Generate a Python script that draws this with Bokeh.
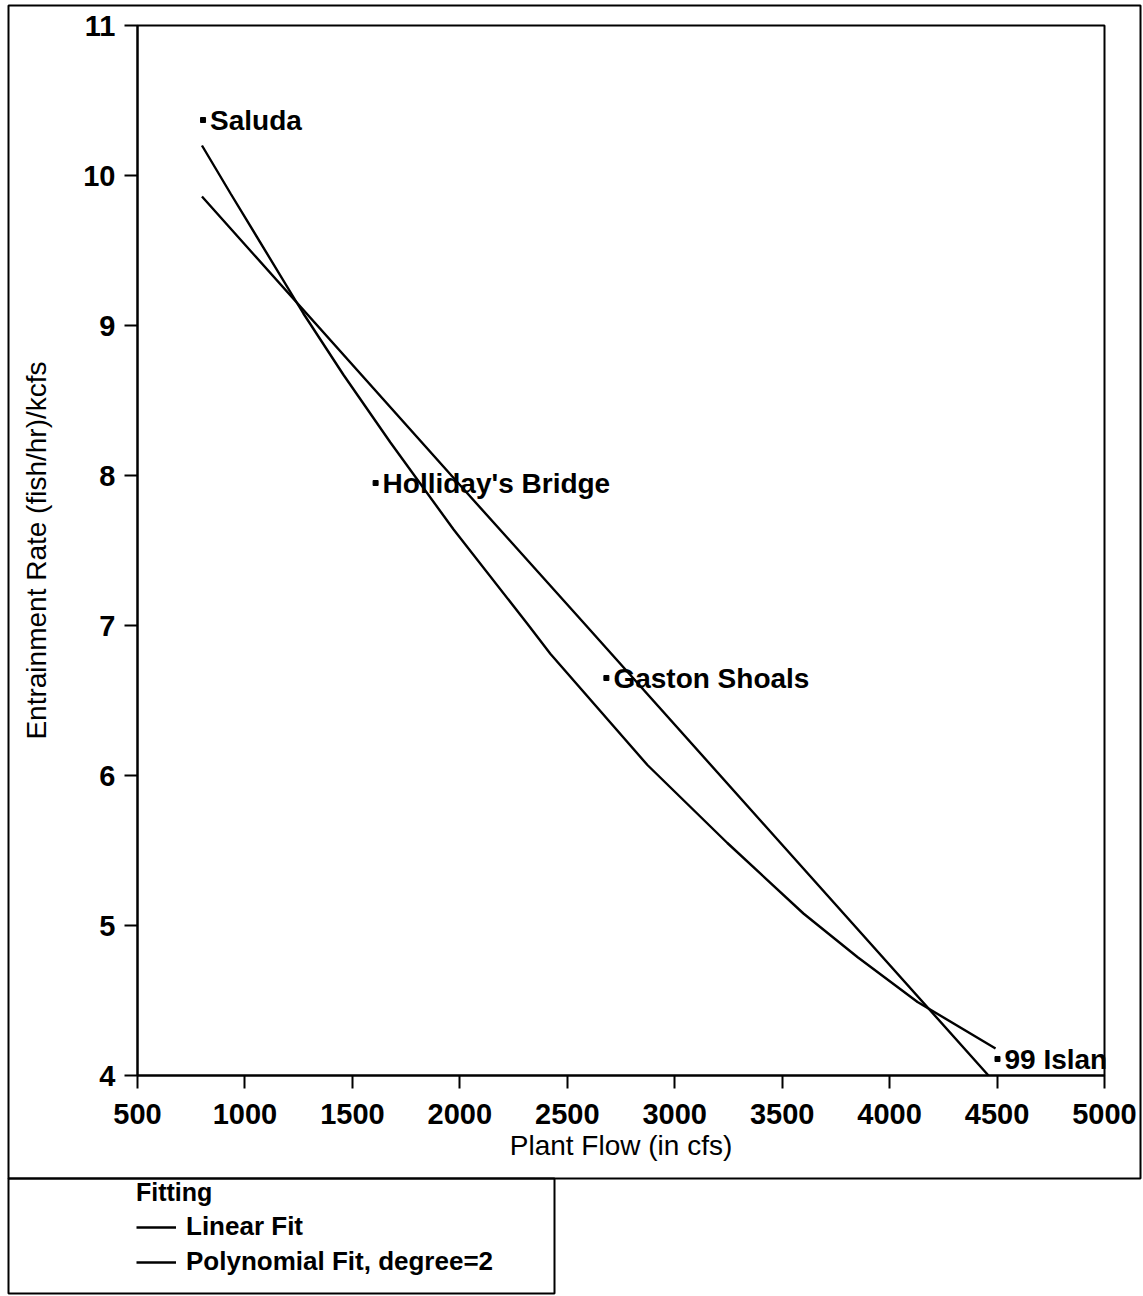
from bokeh.plotting import figure
from bokeh.models import (Range1d, Legend, LegendItem, BoxAnnotation,
                          ColumnDataSource, FixedTicker, LinearAxis)
from bokeh.core.properties import value
from bokeh.embed import file_html
from bokeh.resources import INLINE

# ---- data ----
sites = ["Saluda", "Holliday's Bridge", "Gaston Shoals", "99 Islan"]
plant_flow = [805, 1608, 2682, 4502]
entrain_rate = [10.37, 7.95, 6.65, 4.11]

linear_x = [800, 2017, 2575, 4460]
linear_y = [9.86, 7.91, 7.02, 4.00]

poly_x = [800, 933, 1272, 1459, 1677, 1971, 2315, 2422, 2873, 3245, 3599, 3850, 4130, 4493]
poly_y = [10.20, 9.88, 9.08, 8.67, 8.22, 7.64, 7.01, 6.81, 6.07, 5.55, 5.08, 4.79, 4.49, 4.18]

x_ticks = [500, 1000, 1500, 2000, 2500, 3000, 3500, 4000, 4500, 5000]
y_ticks = [4, 5, 6, 7, 8, 9, 10, 11]
x_lim = (500, 5000)
y_lim = (4, 11)

legend_title = "Fitting"
legend_labels = ["Linear Fit", "Polynomial Fit, degree=2"]

# ---- layout (pixels) ----
FONT = "Liberation Sans"
W, H = 1142, 1295
PLOT_L, PLOT_R, PLOT_T, PLOT_B = 137, 1104, 25, 1075   # plot area in canvas pixels

sx = (PLOT_R - PLOT_L) / (x_lim[1] - x_lim[0])
sy = (PLOT_B - PLOT_T) / (y_lim[1] - y_lim[0])
x_range = Range1d(x_lim[0] - PLOT_L / sx, x_lim[0] + (W - PLOT_L) / sx)
y_range = Range1d(y_lim[1] - (H - PLOT_T) / sy, y_lim[1] + PLOT_T / sy)

p = figure(width=W, height=H, output_backend="svg", toolbar_location=None,
           x_range=x_range, y_range=y_range,
           x_axis_location=None, y_axis_location=None,
           min_border=0, min_border_left=0, min_border_right=0,
           min_border_top=0, min_border_bottom=0)
p.background_fill_color = "white"
p.border_fill_color = "white"
p.outline_line_color = None
p.xgrid.visible = False
p.ygrid.visible = False


def style_axis(ax, ticks, bounds):
    ax.ticker = FixedTicker(ticks=ticks)
    ax.bounds = bounds
    ax.minor_tick_line_color = None
    ax.major_tick_out = 13
    ax.major_tick_in = 0
    ax.axis_line_width = 2
    ax.axis_line_color = "black"
    ax.major_tick_line_width = 2
    ax.major_tick_line_color = "black"
    ax.major_label_text_font = FONT
    ax.major_label_text_font_size = "29px"
    ax.major_label_text_font_style = "bold"
    ax.major_label_text_color = "black"
    ax.axis_label_text_font = FONT
    ax.axis_label_text_font_size = "28px"
    ax.axis_label_text_font_style = "normal"
    ax.axis_label_text_color = "black"


xaxis = LinearAxis(fixed_location=y_lim[0], axis_label="Plant Flow (in cfs)")
style_axis(xaxis, x_ticks, x_lim)
xaxis.major_label_standoff = 15
xaxis.axis_label_standoff = 3
p.add_layout(xaxis, "below")

yaxis = LinearAxis(fixed_location=x_lim[0], axis_label="Entrainment Rate (fish/hr)/kcfs")
style_axis(yaxis, y_ticks, y_lim)
yaxis.major_label_standoff = 9
yaxis.axis_label_standoff = 28
p.add_layout(yaxis, "left")

# plot area frame (top and right edges)
p.add_layout(BoxAnnotation(left=x_lim[0], right=x_lim[1], bottom=y_lim[0], top=y_lim[1],
                           fill_alpha=0, line_color="black", line_width=2, line_alpha=1))

r_lin = p.line(linear_x, linear_y, line_color="black", line_width=2.4)
r_poly = p.line(poly_x, poly_y, line_color="black", line_width=2.4)

src = ColumnDataSource(dict(x=plant_flow, y=entrain_rate, name=sites))
p.scatter("x", "y", source=src, marker="square", size=5,
          fill_color="black", line_color="black")
p.text("x", "y", text="name", source=src, x_offset=7, text_baseline="middle",
       text_font=value(FONT), text_font_size="28px", text_font_style="bold",
       text_color="black")

legend = Legend(
    items=[LegendItem(label=legend_labels[0], renderers=[r_lin]),
           LegendItem(label=legend_labels[1], renderers=[r_poly])],
    location=(136, 18), title=legend_title,
    border_line_alpha=0, background_fill_alpha=0, padding=0, margin=0,
    glyph_width=40, glyph_height=20, label_standoff=10, spacing=4,
    label_text_font=FONT, label_text_font_size="26px",
    label_text_font_style="bold", label_text_color="black",
    title_text_font=FONT, title_text_font_size="25px",
    title_text_font_style="bold", title_text_color="black",
    title_standoff=4)
p.add_layout(legend)

# outer frame and legend frame (canvas pixels)
outer = BoxAnnotation(left=8, right=1140, top=5, bottom=1178,
                      left_units="canvas", right_units="canvas",
                      top_units="canvas", bottom_units="canvas",
                      fill_alpha=0, line_color="black", line_width=2, line_alpha=1)
legend_box = BoxAnnotation(left=8, right=554, top=1178, bottom=1293,
                           left_units="canvas", right_units="canvas",
                           top_units="canvas", bottom_units="canvas",
                           fill_alpha=0, line_color="black", line_width=2, line_alpha=1)
p.add_layout(outer)
p.add_layout(legend_box)

open("out.html", "w").write(file_html(p, INLINE))
